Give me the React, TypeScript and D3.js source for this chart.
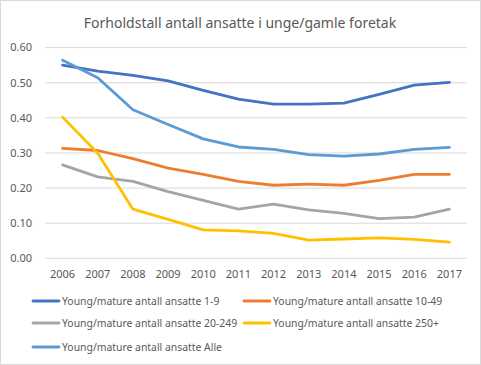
import React, { useEffect, useRef } from 'react';
import * as d3 from 'd3';

const years = ['2006', '2007', '2008', '2009', '2010', '2011', '2012', '2013', '2014', '2015', '2016', '2017'];
const small = [0.55, 0.533, 0.521, 0.505, 0.478, 0.453, 0.439, 0.439, 0.442, 0.467, 0.493, 0.501];
const medium = [0.313, 0.307, 0.284, 0.257, 0.239, 0.219, 0.208, 0.211, 0.208, 0.222, 0.239, 0.239];
const large = [0.266, 0.232, 0.219, 0.19, 0.165, 0.14, 0.154, 0.138, 0.128, 0.113, 0.117, 0.14];
const biggest = [0.402, 0.299, 0.14, 0.111, 0.081, 0.078, 0.071, 0.052, 0.055, 0.058, 0.054, 0.046];
const all = [0.564, 0.514, 0.423, 0.381, 0.34, 0.317, 0.31, 0.295, 0.291, 0.297, 0.31, 0.316];
const yTicks = [0, 0.1, 0.2, 0.3, 0.4, 0.5, 0.6];

const series = [
    { name: 'Young/mature antall ansatte 1-9', values: small, color: '#4472C4' },
    { name: 'Young/mature antall ansatte 10-49', values: medium, color: '#ED7D31' },
    { name: 'Young/mature antall ansatte 20-249', values: large, color: '#A5A5A5' },
    { name: 'Young/mature antall ansatte 250+', values: biggest, color: '#FFC000' },
    { name: 'Young/mature antall ansatte Alle', values: all, color: '#5B9BD5' },
];

function App() {
    const ref = useRef<SVGSVGElement>(null);
    const width = 481;
    const height = 365;
    const font = "'Noto Sans', sans-serif";

    useEffect(() => {
        const svg = d3.select(ref.current);
        svg.selectAll('*').remove();

        svg.append('rect')
            .attr('x', 0.5).attr('y', 0.5)
            .attr('width', width - 1).attr('height', height - 1)
            .attr('fill', '#fff')
            .attr('stroke', '#D9D9D9');

        svg.append('text')
            .attr('x', 240).attr('y', 28)
            .attr('text-anchor', 'middle')
            .style('font-family', font)
            .style('font-size', '14px')
            .style('fill', '#595959')
            .text('Forholdstall antall ansatte i unge/gamle foretak');

        const x = d3.scaleBand().domain(years).range([45, 467]);
        const y = d3.scaleLinear().domain([0, 0.6]).range([258.3, 47.6]);

        // gridlines
        svg.append('g')
            .selectAll('line')
            .data(yTicks)
            .enter()
            .append('line')
            .attr('x1', 45).attr('x2', 467)
            .attr('y1', (d) => y(d)).attr('y2', (d) => y(d))
            .attr('stroke', '#D9D9D9')
            .attr('stroke-width', 1);

        // y labels
        svg.append('g')
            .selectAll('text')
            .data(yTicks)
            .enter()
            .append('text')
            .attr('x', 32)
            .attr('y', (d) => y(d))
            .attr('dy', '0.35em')
            .attr('text-anchor', 'end')
            .style('font-family', font)
            .style('font-size', '11px')
            .style('fill', '#595959')
            .text((d) => d3.format('.2f')(d));

        // x labels
        svg.append('g')
            .selectAll('text')
            .data(years)
            .enter()
            .append('text')
            .attr('x', (d) => (x(d) as number) + x.bandwidth() / 2)
            .attr('y', 274)
            .attr('dy', '0.35em')
            .attr('text-anchor', 'middle')
            .style('font-family', font)
            .style('font-size', '11px')
            .style('fill', '#595959')
            .text((d) => d);

        const line = d3.line<number>()
            .x((_, i) => (x(years[i]) as number) + x.bandwidth() / 2)
            .y((d) => y(d));

        svg.append('g')
            .selectAll('path')
            .data(series)
            .enter()
            .append('path')
            .attr('d', (d) => line(d.values))
            .attr('fill', 'none')
            .attr('stroke', (d) => d.color)
            .attr('stroke-width', 2.8)
            .attr('stroke-linejoin', 'round')
            .attr('stroke-linecap', 'round');

        // legend
        const legendPos = [[33, 301], [244, 301], [33, 323], [244, 323], [33, 347]];
        const legend = svg.append('g')
            .selectAll('g')
            .data(series)
            .enter()
            .append('g')
            .attr('transform', (_, i) => `translate(${legendPos[i][0]}, ${legendPos[i][1]})`);

        legend.append('line')
            .attr('x1', 0).attr('x2', 26)
            .attr('stroke', (d) => d.color)
            .attr('stroke-width', 2.8)
            .attr('stroke-linecap', 'round');

        legend.append('text')
            .attr('x', 29)
            .attr('dy', '0.35em')
            .style('font-family', font)
            .style('font-size', '10.4px')
            .style('fill', '#595959')
            .text((d) => d.name);
    });

    return <svg ref={ref} width={width} height={height} style={{ position: 'absolute', left: 0, top: 0 }}></svg>;
}

export default App;
